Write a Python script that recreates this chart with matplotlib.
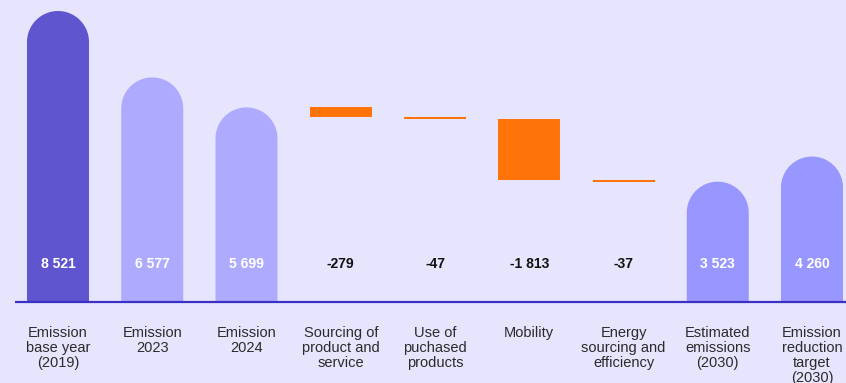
import matplotlib
matplotlib.use("Agg")
import numpy as np
import matplotlib.pyplot as plt
from matplotlib.patches import Polygon

categories = ["Emission\nbase year\n(2019)", "Emission\n2023", "Emission\n2024",
              "Sourcing of\nproduct and\nservice", "Use of\npuchased\nproducts",
              "Mobility", "Energy\nsourcing and\nefficiency",
              "Estimated\nemissions\n(2030)", "Emission\nreduction\ntarget\n(2030)"]
values = [8521, 6577, 5699, -279, -47, -1813, -37, 3523, 4260]
is_delta = [False, False, False, True, True, True, True, False, False]

bg = "#e7e5fd"
bar_colors = ["#5f55cf", "#aeabff", "#aeabff", "#ff7308", "#ff7308",
              "#ff7308", "#ff7308", "#9896ff", "#9896ff"]

W, H = 846, 383
step = 94.25
fig = plt.figure(figsize=(W / 100, H / 100), dpi=100, facecolor=bg)
base_px = 302
ax = fig.add_axes([0, (H - base_px) / H, 1, base_px / H])
ax.set_facecolor(bg)
ymax = base_px / 0.03415
ax.set_ylim(0, ymax)
ax.set_xlim(-58 / step, (W - 58) / step)
ax.axis("off")

width = 62 / step
# radius of the rounded tops, in data units on y
r_y = 31 * ymax / base_px
theta = np.linspace(0, np.pi, 60)


def rounded_bar(x, v, color):
    hw = width / 2
    arc_x = x + hw * np.cos(theta)
    arc_y = (v - r_y) + r_y * np.sin(theta)
    xs = np.concatenate([[x + hw], arc_x, [x - hw]])
    ys = np.concatenate([[0], arc_y, [0]])
    ax.add_patch(Polygon(np.column_stack([xs, ys]), closed=True,
                         facecolor=color, edgecolor="none"))


running = None
for i, (v, d, c) in enumerate(zip(values, is_delta, bar_colors)):
    if d:
        top = running
        bottom = running + v
        ax.bar(i, top - bottom, bottom=bottom, width=width, color=c, linewidth=0)
        running = bottom
        lc = "#111111"
    else:
        rounded_bar(i, v, c)
        running = v
        lc = "white"
    txt = f"{v:,}".replace(",", " ")
    ax.text(i, 1113, txt, ha="center", va="center", color=lc,
            fontsize=10, fontweight="bold", family="Liberation Sans")
    ax.annotate(categories[i], xy=(i, 0), xytext=(0, -24),
                textcoords="offset pixels", ha="center", va="top",
                fontsize=10.5, color="#2b2b2b", family="Liberation Sans",
                linespacing=1.08, annotation_clip=False)

ax.plot([(15 - 58) / step, 8.5], [0, 0], color="#3b2fc4", linewidth=1.6,
        clip_on=False, solid_capstyle="butt")

fig.savefig("out.png", dpi=100, facecolor=bg)
